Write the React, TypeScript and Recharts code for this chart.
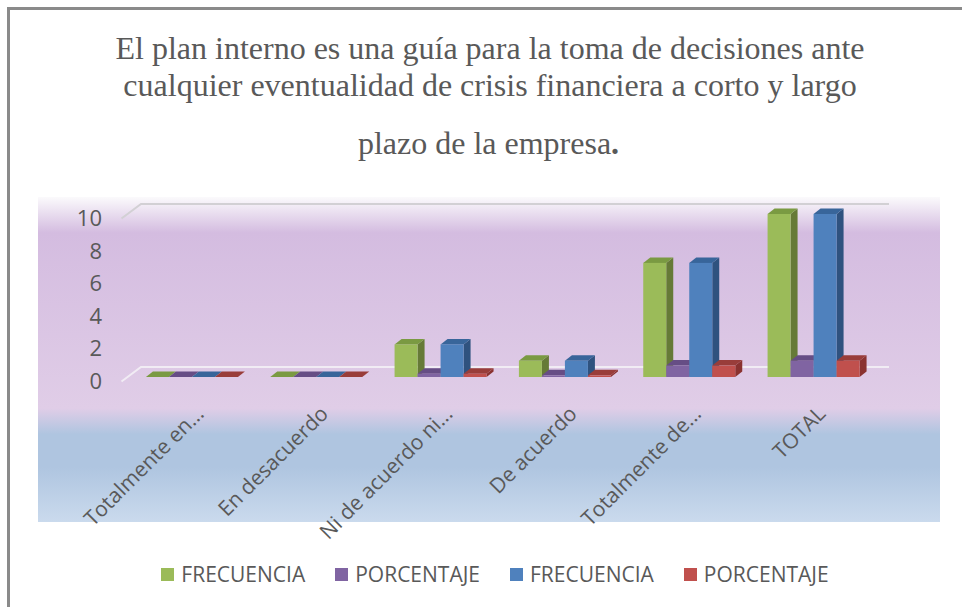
import { BarChart, Bar, XAxis, YAxis, CartesianGrid, Legend } from 'recharts'

const CATEGORIES = ['Totalmente en...', 'En desacuerdo', 'Ni de acuerdo ni...', 'De acuerdo', 'Totalmente de...', 'TOTAL']
const FRECUENCIA_A = [0, 0, 2, 1, 7, 10]
const PORCENTAJE_A = [0, 0, 0.2, 0.1, 0.7, 1]
const FRECUENCIA_B = [0, 0, 2, 1, 7, 10]
const PORCENTAJE_B = [0, 0, 0.2, 0.1, 0.7, 1]
const Y_TICKS = [0, 2, 4, 6, 8, 10]
const GRID_VALUES = [
  0, 0.4, 0.8, 1.2, 1.6, 2, 2.4, 2.8, 3.2, 3.6, 4, 4.4, 4.8, 5.2, 5.6,
  6, 6.4, 6.8, 7.2, 7.6, 8, 8.4, 8.8, 9.2, 9.6, 10,
]
const TITLE_LINES = [
  'El plan interno es una guía para la toma de decisiones ante',
  'cualquier eventualidad de crisis financiera a corto y largo',
]

const data = CATEGORIES.map((name, i) => ({
  name,
  fa: FRECUENCIA_A[i],
  pa: PORCENTAJE_A[i],
  fb: FRECUENCIA_B[i],
  pb: PORCENTAJE_B[i],
}))

const TEXT = '#595959'
const SANS = '"Open Sans", sans-serif'

// fake 3D box, the front face comes from the bar scale
function box(front: string, side: string, top: string) {
  return (p: any) => {
    const { x, y, width: w, height: h } = p
    const dx = 7
    const dy = 5.5
    return (
      <g>
        <path d={`M${x + w},${y} L${x + w + dx},${y - dy} L${x + w + dx},${y + h - dy} L${x + w},${y + h} Z`} fill={side} />
        <path d={`M${x},${y} L${x + dx},${y - dy} L${x + w + dx},${y - dy} L${x + w},${y} Z`} fill={top} />
        <rect x={x} y={y} width={w} height={h} fill={front} />
      </g>
    )
  }
}

// grid runs along the side wall, then across the back wall
function GridLine(p: any) {
  const major = p.index % 5 === 0
  const { x1, x2, y1 } = p
  return (
    <polyline
      points={`${x1 - 7.5},${y1 + 4.5} ${x1 + 12},${y1 - 10} ${x2 + 14},${y1 - 10}`}
      fill="none"
      stroke={major ? '#D2D0D4' : '#F1ECF4'}
      strokeWidth={2}
    />
  )
}

function YTick(p: any) {
  return (
    <text x={102} y={p.y + 12} textAnchor="end" fontSize={22} fontFamily={SANS} fill={TEXT}>
      {p.payload.value}
    </text>
  )
}

function XTick(p: any) {
  return (
    <text
      x={p.x + 14}
      y={p.y + 30}
      textAnchor="end"
      fontSize={21}
      fontFamily={SANS}
      fill={TEXT}
      transform={`rotate(-45 ${p.x + 14} ${p.y + 30})`}
    >
      {p.payload.value}
    </text>
  )
}

function LegendRow(p: any) {
  return (
    <div style={{ display: 'flex', justifyContent: 'center', gap: 30 }}>
      {p.payload.map((item: any) => (
        <div key={item.dataKey} style={{ display: 'flex', alignItems: 'center', gap: 7 }}>
          <span style={{ width: 13, height: 13, background: item.color }} />
          <span style={{ fontFamily: SANS, fontSize: 21, color: TEXT }}>{item.value}</span>
        </div>
      ))}
    </div>
  )
}

export default function App() {
  return (
    <div style={{ position: 'absolute', left: 0, top: 0, width: 962, height: 607, overflow: 'hidden', background: '#fff' }}>
      <div style={{ position: 'absolute', left: 7, top: 7, width: 960, height: 605, borderLeft: '3px solid #8A8A8A', borderTop: '3px solid #8A8A8A' }} />
      <div
        style={{
          position: 'absolute', left: 38, top: 197, width: 902, height: 325,
          background: 'linear-gradient(180deg, #FBFAFC 0%, #D4BCE0 11%, #E0CDE7 65%, #AFC5E0 73%, #AFC5E0 83%, #CADAED 100%)',
        }}
      />
      {TITLE_LINES.map((line, i) => (
        <div key={i} style={{ position: 'absolute', left: 0, width: 980, top: [30, 67][i], textAlign: 'center', fontFamily: '"Liberation Serif", serif', fontSize: 32, color: TEXT, whiteSpace: 'nowrap' }}>
          {line}
        </div>
      ))}
      <div style={{ position: 'absolute', left: 0, width: 977, top: 125, textAlign: 'center', fontFamily: '"Liberation Serif", serif', fontSize: 32, color: TEXT }}>
        plazo de la empresa<b>.</b>
      </div>
      <div style={{ position: 'absolute', left: 0, top: 0 }}>
        <BarChart
          width={962}
          height={607}
          data={data}
          margin={{ top: 214, right: 87, bottom: 51, left: 29 }}
          barCategoryGap="13.6%"
          barGap={0}
          style={{ background: 'transparent' }}
        >
          <CartesianGrid vertical={false} yAxisId="grid" horizontal={GridLine} />
          <XAxis dataKey="name" height={145} interval={0} axisLine={false} tickLine={false} tick={XTick} />
          <YAxis width={100} domain={[0, 10]} ticks={Y_TICKS} axisLine={false} tickLine={false} tick={YTick} />
          <YAxis yAxisId="grid" hide domain={[0, 10]} ticks={GRID_VALUES} interval={0} />
          <Legend content={LegendRow} itemSorter={null} wrapperStyle={{ left: 0, top: 560, width: 990, height: 34 }} />
          <Bar dataKey="fa" name="FRECUENCIA" fill="#9BBB59" shape={box('#9BBB59', '#667A37', '#7A9A42')} isAnimationActive={false} />
          <Bar dataKey="pa" name="PORCENTAJE" fill="#8064A2" shape={box('#8064A2', '#56426F', '#664D85')} isAnimationActive={false} />
          <Bar dataKey="fb" name="FRECUENCIA" fill="#4F81BD" shape={box('#4F81BD', '#2F527F', '#38659A')} isAnimationActive={false} />
          <Bar dataKey="pb" name="PORCENTAJE" fill="#C0504D" shape={box('#C0504D', '#8A3230', '#993D3A')} isAnimationActive={false} />
        </BarChart>
      </div>
    </div>
  )
}
